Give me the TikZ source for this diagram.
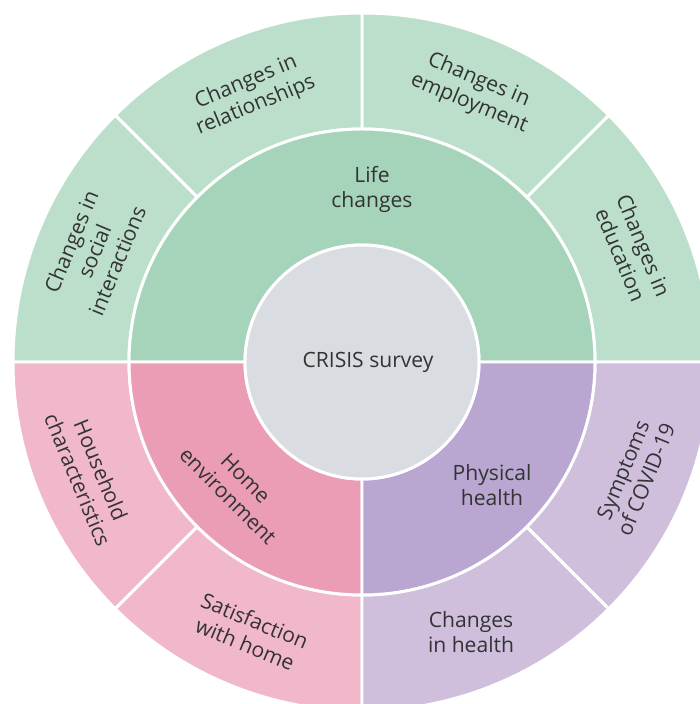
\documentclass[tikz,border=0pt]{standalone}
\usepackage{fontspec}
\setmainfont{Open Sans}
\usepackage{xcolor}
\usetikzlibrary{positioning}
\definecolor{texto}{HTML}{333333}
\definecolor{gris}{HTML}{D9DCE1}
\definecolor{verdeMedio}{HTML}{A5D4BB}
\definecolor{verdeClaro}{HTML}{BCDFCC}
\definecolor{rosaMedio}{HTML}{EB9DB6}
\definecolor{rosaClaro}{HTML}{F0B8CA}
\definecolor{lilaMedio}{HTML}{B9A7D2}
\definecolor{lilaClaro}{HTML}{CFBFDD}

\begin{document}
\begin{tikzpicture}[
    seg/.style={draw=white,line width=1.7pt},
    lbl/.style={align=center,text=texto,font=\fontsize{12}{14.2}\selectfont}]
  \clip (0,0) rectangle (14,14.08);
  \coordinate (c) at (7.24,6.84);
  \begin{scope}[shift={(c)}]
    % outer ring
    \path[seg,fill=verdeClaro] (0:4.66) arc[start angle=0,end angle=45,radius=4.66]
      -- (45:6.98) arc[start angle=45,end angle=0,radius=6.98] -- cycle;
    \path[seg,fill=verdeClaro] (45:4.66) arc[start angle=45,end angle=90,radius=4.66]
      -- (90:6.98) arc[start angle=90,end angle=45,radius=6.98] -- cycle;
    \path[seg,fill=verdeClaro] (90:4.66) arc[start angle=90,end angle=135,radius=4.66]
      -- (135:6.98) arc[start angle=135,end angle=90,radius=6.98] -- cycle;
    \path[seg,fill=verdeClaro] (135:4.66) arc[start angle=135,end angle=180,radius=4.66]
      -- (180:6.98) arc[start angle=180,end angle=135,radius=6.98] -- cycle;
    \path[seg,fill=rosaClaro] (180:4.66) arc[start angle=180,end angle=225,radius=4.66]
      -- (225:6.98) arc[start angle=225,end angle=180,radius=6.98] -- cycle;
    \path[seg,fill=rosaClaro] (225:4.66) arc[start angle=225,end angle=270,radius=4.66]
      -- (270:6.98) arc[start angle=270,end angle=225,radius=6.98] -- cycle;
    \path[seg,fill=lilaClaro] (270:4.66) arc[start angle=270,end angle=315,radius=4.66]
      -- (315:6.98) arc[start angle=315,end angle=270,radius=6.98] -- cycle;
    \path[seg,fill=lilaClaro] (315:4.66) arc[start angle=315,end angle=360,radius=4.66]
      -- (360:6.98) arc[start angle=360,end angle=315,radius=6.98] -- cycle;
    % middle ring
    \path[seg,fill=verdeMedio] (0:2.34) arc[start angle=0,end angle=180,radius=2.34]
      -- (180:4.66) arc[start angle=180,end angle=0,radius=4.66] -- cycle;
    \path[seg,fill=rosaMedio] (180:2.34) arc[start angle=180,end angle=270,radius=2.34]
      -- (270:4.66) arc[start angle=270,end angle=180,radius=4.66] -- cycle;
    \path[seg,fill=lilaMedio] (270:2.34) arc[start angle=270,end angle=360,radius=2.34]
      -- (360:4.66) arc[start angle=360,end angle=270,radius=4.66] -- cycle;
    \path[seg,fill=gris] (0,0) circle[radius=2.34];

    \node[lbl] (crisis) at (0.12,0) {CRISIS survey};
    \node[lbl] (vida) at (0.2,3.45) {Life\\changes};
    \node[lbl,rotate=-45] (hogar) at (225:3.54) {Home\\environment};
    \node[lbl] (fisica) at (-43.4:3.58) {Physical\\health};

    \node[lbl,rotate=-67.5] (educ) at (22.5:5.85) {Changes in\\education};
    \node[lbl,rotate=-22.5] (empleo) at (67.5:5.85) {Changes in\\employment};
    \node[lbl,rotate=22.5] (relac) at (112.5:5.8) {Changes in\\relationships};
    \node[lbl,rotate=67.5] (social) at (157.5:5.8) {Changes in\\social\\interactions};
    \node[lbl,rotate=-67.5] (casa) at (202.5:5.9) {Household\\characteristics};
    \node[lbl,rotate=-22.5] (satisf) at (247.5:5.85) {Satisfaction\\with home};
    \node[lbl] (salud) at (292:5.82) {Changes\\in health};
    \node[lbl,rotate=67.5] (covid) at (337.5:5.9) {Symptoms\\of COVID-19};
  \end{scope}
\end{tikzpicture}
\end{document}
